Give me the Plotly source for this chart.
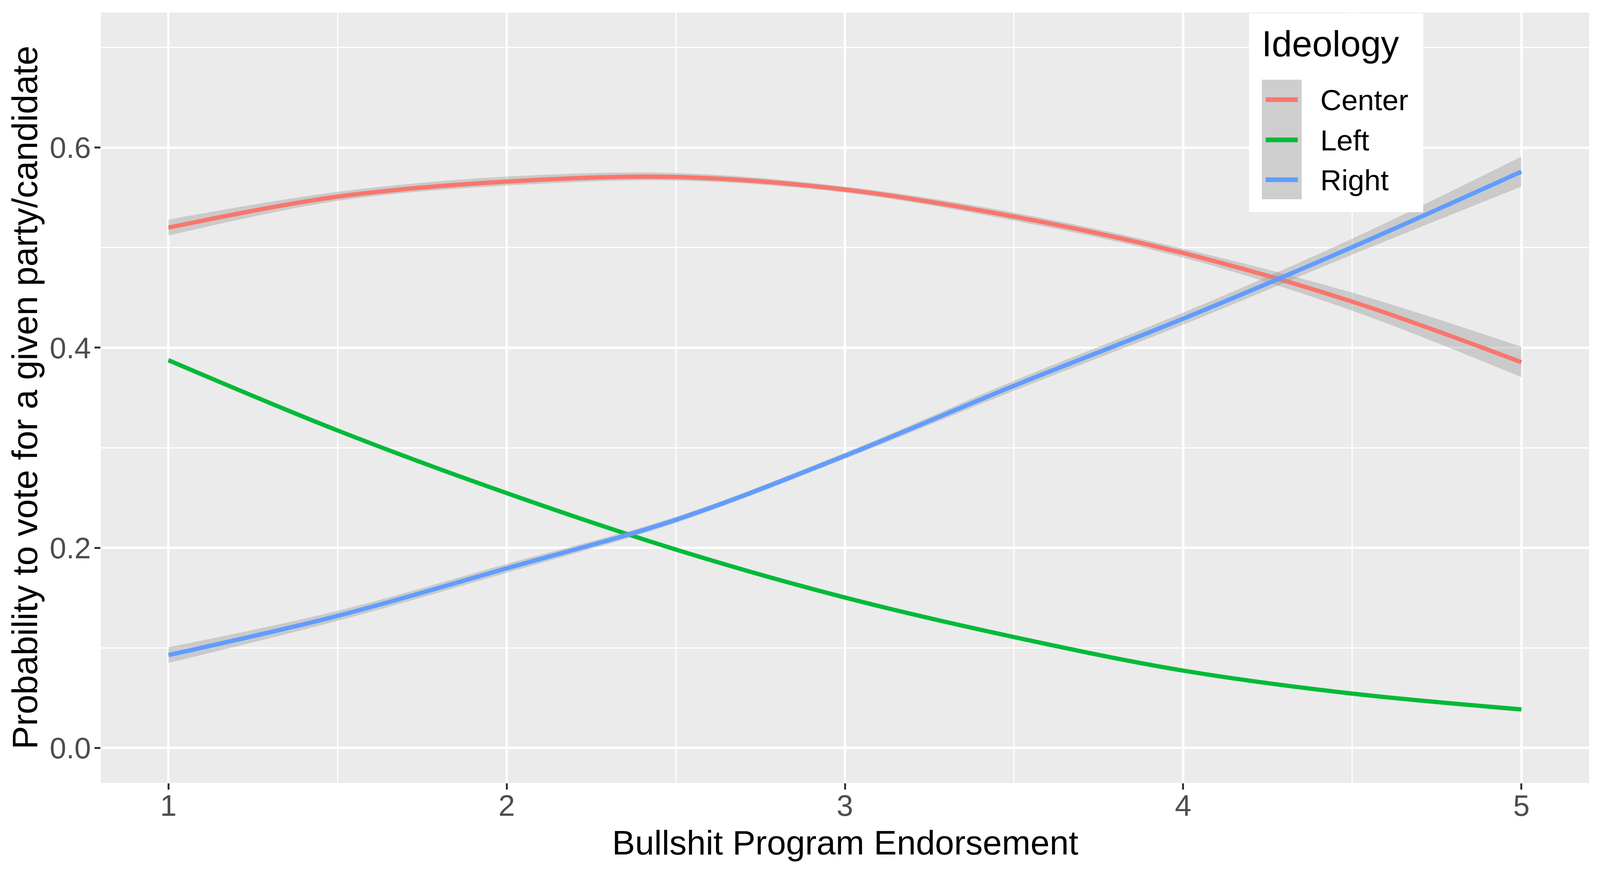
import plotly.graph_objects as go

# ---------------- data ----------------
x_vals = [1.0, 1.5, 2.0, 2.5, 3.0, 3.5, 4.0, 4.5, 5.0]

center_fit = [0.520, 0.551, 0.566, 0.5706, 0.558, 0.531, 0.4946, 0.446, 0.3855]
center_lo  = [0.512, 0.5468, 0.562, 0.567, 0.555, 0.527, 0.490, 0.437, 0.3705]
center_hi  = [0.528, 0.5558, 0.571, 0.5745, 0.561, 0.535, 0.499, 0.455, 0.401]

left_fit = [0.3875, 0.3173, 0.2547, 0.1983, 0.1503, 0.1108, 0.0773, 0.0543, 0.0385]
left_lo  = [0.3850, 0.3155, 0.2535, 0.1975, 0.1497, 0.1102, 0.0766, 0.0533, 0.0370]
left_hi  = [0.3900, 0.3191, 0.2559, 0.1991, 0.1509, 0.1114, 0.0780, 0.0553, 0.0400]

right_fit = [0.0928, 0.132, 0.1795, 0.228, 0.292, 0.362, 0.429, 0.5005, 0.576]
right_lo  = [0.085, 0.127, 0.175, 0.225, 0.289, 0.357, 0.423, 0.493, 0.561]
right_hi  = [0.1007, 0.137, 0.184, 0.231, 0.295, 0.367, 0.435, 0.509, 0.591]

groups = ["Center", "Left", "Right"]
colors = ["#F8766D", "#00BA38", "#619CFF"]

x_ticks = [1, 2, 3, 4, 5]
y_ticks = [0.0, 0.2, 0.4, 0.6]

x_title = "Bullshit Program Endorsement"
y_title = "Probability to vote for a given party/candidate"
legend_title = "Ideology"

# ---------------- geometry (pixels of the 4096x2237 viewport) ----------------
W, H = 4096, 2237
PL, PR, PT, PB = 258, 4068, 32, 2004   # panel edges
X_RANGE = [0.8, 5.2]
Y_RANGE = [-0.035, 0.735]


def px_x(p):
    return (p - PL) / (PR - PL)


def px_y(p):
    return (PB - p) / (PB - PT)


def data_px_x(v):
    return PL + (v - X_RANGE[0]) / (X_RANGE[1] - X_RANGE[0]) * (PR - PL)


FONT = "Liberation Sans, Arial, sans-serif"

fig = go.Figure()

series = [
    (center_fit, center_lo, center_hi),
    (left_fit, left_lo, left_hi),
    (right_fit, right_lo, right_hi),
]

for name, col, (fit, lo, hi) in zip(groups, colors, series):
    fig.add_trace(go.Scatter(x=x_vals, y=lo, mode="lines",
                             line=dict(width=0, shape="spline", color="rgba(0,0,0,0)"),
                             showlegend=False, hoverinfo="skip"))
    fig.add_trace(go.Scatter(x=x_vals, y=hi, mode="lines", fill="tonexty",
                             fillcolor="rgba(153,153,153,0.4)",
                             line=dict(width=0, shape="spline", color="rgba(0,0,0,0)"),
                             showlegend=False, hoverinfo="skip"))
    fig.add_trace(go.Scatter(x=x_vals, y=fit, mode="lines", name=name,
                             line=dict(width=11, shape="spline", color=col),
                             showlegend=False))

# ---------------- manual legend (ggplot style, inside the panel) ----------------
LB_W = 446
LB_CX = data_px_x(4.452)          # horizontal centre of the legend box
LB_L = LB_CX - LB_W / 2

shapes = []
annotations = []
shapes.append(dict(type="rect", xref="paper", yref="paper",
                   x0=px_x(LB_L), x1=px_x(LB_L + LB_W), y0=px_y(543), y1=px_y(34),
                   fillcolor="white", line=dict(width=0), layer="above"))
shapes.append(dict(type="rect", xref="paper", yref="paper",
                   x0=px_x(LB_L + 33), x1=px_x(LB_L + 135), y0=px_y(510), y1=px_y(204),
                   fillcolor="rgb(206,206,206)", line=dict(width=0), layer="above"))
annotations.append(dict(text=legend_title, xref="paper", yref="paper",
                        x=px_x(LB_L + 31), y=px_y(112), xanchor="left", yanchor="middle",
                        showarrow=False, font=dict(family=FONT, size=93, color="black")))
key_y = [255, 358, 460]
for name, col, ky in zip(groups, colors, key_y):
    shapes.append(dict(type="line", xref="paper", yref="paper",
                       x0=px_x(LB_L + 43), x1=px_x(LB_L + 125), y0=px_y(ky), y1=px_y(ky),
                       line=dict(color=col, width=12), layer="above"))
    annotations.append(dict(text=name, xref="paper", yref="paper",
                            x=px_x(LB_L + 181), y=px_y(ky + 1), xanchor="left", yanchor="middle",
                            showarrow=False, font=dict(family=FONT, size=75, color="black")))

# axis titles
annotations.append(dict(text=x_title, xref="paper", yref="paper",
                        x=0.5, y=px_y(2156), xanchor="center", yanchor="middle",
                        showarrow=False, font=dict(family=FONT, size=88, color="black")))
annotations.append(dict(text=y_title, xref="paper", yref="paper", textangle=-90,
                        x=px_x(64), y=0.5, xanchor="center", yanchor="middle",
                        showarrow=False, font=dict(family=FONT, size=90, color="black")))

fig.update_layout(
    width=W, height=H,
    margin=dict(l=PL, r=W - PR, t=PT, b=H - PB, autoexpand=False),
    paper_bgcolor="white",
    plot_bgcolor="#EBEBEB",
    showlegend=False,
    shapes=shapes,
    annotations=annotations,
    font=dict(family=FONT),
)

fig.update_xaxes(
    range=X_RANGE, tickvals=x_ticks, ticktext=[str(v) for v in x_ticks],
    ticks="outside", ticklen=16, tickwidth=5, tickcolor="#333333",
    ticklabelstandoff=-24,
    tickfont=dict(family=FONT, size=76, color="#4D4D4D"),
    showgrid=True, gridcolor="white", gridwidth=6,
    minor=dict(dtick=0.5, tick0=0, showgrid=True, gridcolor="white", gridwidth=3, ticks=""),
    zeroline=False, showline=False, automargin=False,
)
fig.update_yaxes(
    range=Y_RANGE, tickvals=y_ticks, ticktext=[f"{v:.1f}" for v in y_ticks],
    ticks="outside", ticklen=15, tickwidth=5, tickcolor="#333333",
    ticklabelstandoff=-6,
    tickfont=dict(family=FONT, size=76, color="#4D4D4D"),
    showgrid=True, gridcolor="white", gridwidth=6,
    minor=dict(dtick=0.1, tick0=0, showgrid=True, gridcolor="white", gridwidth=3, ticks=""),
    zeroline=False, showline=False, automargin=False,
)

# Keep the page free of margins/scrollbars; scale only if the viewport differs
fit_script = """
(function(){
  var gd = document.getElementById('{plot_id}');
  var W = %d, H = %d;
  function fit(){
    var s = Math.min(window.innerWidth / W, window.innerHeight / H);
    var de = document.documentElement, b = document.body;
    de.style.margin = '0'; de.style.padding = '0'; de.style.overflow = 'hidden';
    b.style.margin = '0'; b.style.padding = '0'; b.style.overflow = 'hidden';
    var wrap = gd.parentNode;
    wrap.style.width = window.innerWidth + 'px';
    wrap.style.height = window.innerHeight + 'px';
    wrap.style.overflow = 'hidden';
    gd.style.transformOrigin = '0 0';
    gd.style.transform = 'scale(' + s + ')';
  }
  fit();
  window.addEventListener('resize', fit);
})();
""" % (W, H)

fig.write_html("out.html", post_script=fit_script, config={"displayModeBar": False})
